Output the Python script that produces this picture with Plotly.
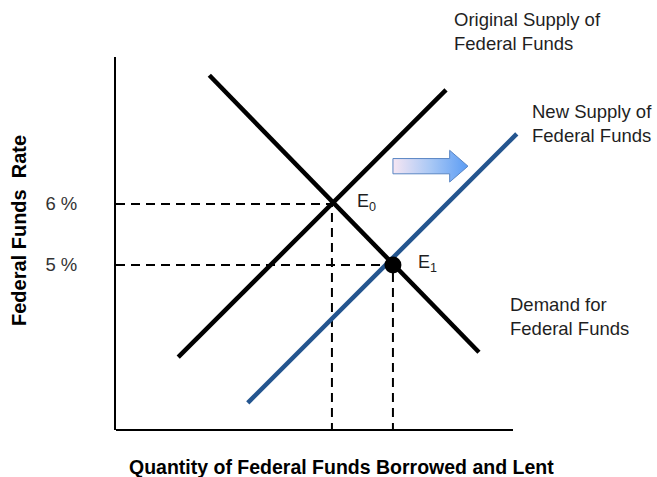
import plotly.graph_objects as go

# data (quantity in arbitrary units, rate in %)
demand_q = [1.53, 5.95]
demand_r = [8.11, 3.57]
supply_q = [1.02, 5.41]
supply_r = [3.49, 7.87]
new_supply_q = [2.16, 6.57]
new_supply_r = [2.74, 7.15]
eq_labels = ["E<sub>0</sub>", "E<sub>1</sub>"]
eq_q = [3.54, 4.54]
eq_r = [6.0, 5.0]
rate_ticks = [6, 5]
rate_ticktext = ["6 %", "5 %"]

W, H = 657, 477
L, R, T, B = 116, 110, 57, 47
PX = 61.0  # pixels per unit on both axes
x_rng = [0, (W - L - R) / PX]
y_rng = [6 - (H - B - 204) / PX, 6 + (204 - T) / PX]
x_axis_end = (513 - L) / PX  # drawn x axis stops short of the plot area

FONT = "Liberation Sans, Arial, sans-serif"
TXT = "#1f1f1f"


def paper(px, py):
    return (px - L) / (W - L - R), (H - B - py) / (H - T - B)


fig = go.Figure()

# dashed guides to the axes
for q, r in zip(eq_q, eq_r):
    fig.add_trace(go.Scatter(x=[0, q, q], y=[r, r, y_rng[0]], mode="lines",
                             line=dict(color="black", width=2, dash="9px,6px"),
                             hoverinfo="skip", showlegend=False))

fig.add_trace(go.Scatter(x=demand_q, y=demand_r, mode="lines",
                         line=dict(color="black", width=4.5), showlegend=False))
fig.add_trace(go.Scatter(x=supply_q, y=supply_r, mode="lines",
                         line=dict(color="black", width=4.5), showlegend=False))
fig.add_trace(go.Scatter(x=new_supply_q, y=new_supply_r, mode="lines",
                         line=dict(color="#24558f", width=4.5), showlegend=False))

# new equilibrium point
fig.add_trace(go.Scatter(x=[eq_q[1]], y=[eq_r[1]], mode="markers",
                         marker=dict(color="black", size=17), showlegend=False))

# block arrow showing the shift
ax0, ax1, ay = 4.54, 5.77, 6.62
body_h, head_h, head_w = 0.125, 0.26, 0.30
hx = ax1 - head_w
fig.add_trace(go.Scatter(
    x=[ax0, hx, hx, ax1, hx, hx, ax0, ax0],
    y=[ay + body_h, ay + body_h, ay + head_h, ay, ay - head_h, ay - body_h, ay - body_h, ay + body_h],
    mode="lines", fill="toself",
    fillgradient=dict(type="horizontal", colorscale=[[0, "#f6e6f3"], [0.5, "#a9c8f5"], [1, "#5b9cf4"]]),
    line=dict(color="#5a86c4", width=1), hoverinfo="skip", showlegend=False))

# x axis line (shorter than plot area so the new supply line can overhang)
fig.add_shape(type="line", xref="x", yref="paper", x0=0, x1=x_axis_end, y0=0, y1=0,
              line=dict(color="black", width=2), layer="above")

for lab, q, r in zip(eq_labels, eq_q, eq_r):
    fig.add_annotation(x=q + 0.37, y=r + 0.03, text=lab, showarrow=False,
                       xanchor="left", yanchor="middle",
                       font=dict(family=FONT, size=18, color=TXT))

notes = [
    ("Original Supply of<br>Federal Funds", 452, 32),
    ("New Supply of<br>Federal Funds", 530, 123),
    ("Demand for<br>Federal Funds", 508, 316),
]
for txt, px, py in notes:
    xp, yp = paper(px, py)
    fig.add_annotation(x=xp, y=yp, xref="paper", yref="paper", text=txt,
                       showarrow=False, xanchor="left", yanchor="middle", align="left",
                       font=dict(family=FONT, size=18.5, color=TXT))

xp, yp = paper(341, 467)
fig.add_annotation(x=xp, y=yp, xref="paper", yref="paper",
                   text="<b>Quantity of Federal Funds Borrowed and Lent</b>",
                   showarrow=False, xanchor="center", yanchor="middle",
                   font=dict(family=FONT, size=19.5, color="black"))
xp, yp = paper(19, 231)
fig.add_annotation(x=xp, y=yp, xref="paper", yref="paper",
                   text="<b>Federal Funds  Rate</b>", textangle=-90,
                   showarrow=False, xanchor="center", yanchor="middle",
                   font=dict(family=FONT, size=20, color="black"))

fig.update_xaxes(range=x_rng, showline=False,
                 showgrid=False, zeroline=False, showticklabels=False, ticks="")
fig.update_yaxes(range=y_rng, showline=True, linecolor="black", linewidth=2,
                 showgrid=False, zeroline=False, ticks="",
                 tickvals=rate_ticks, ticktext=rate_ticktext, ticklabelstandoff=33,
                 tickfont=dict(family=FONT, size=18.5, color="#333333"))
fig.update_layout(width=W, height=H, margin=dict(l=L, r=R, t=T, b=B),
                  plot_bgcolor="white", paper_bgcolor="white")

# page has a default body margin; drop it so the figure fills the window
fig.write_html("out.html", config={"displayModeBar": False},
               post_script="document.body.style.margin='0';")
